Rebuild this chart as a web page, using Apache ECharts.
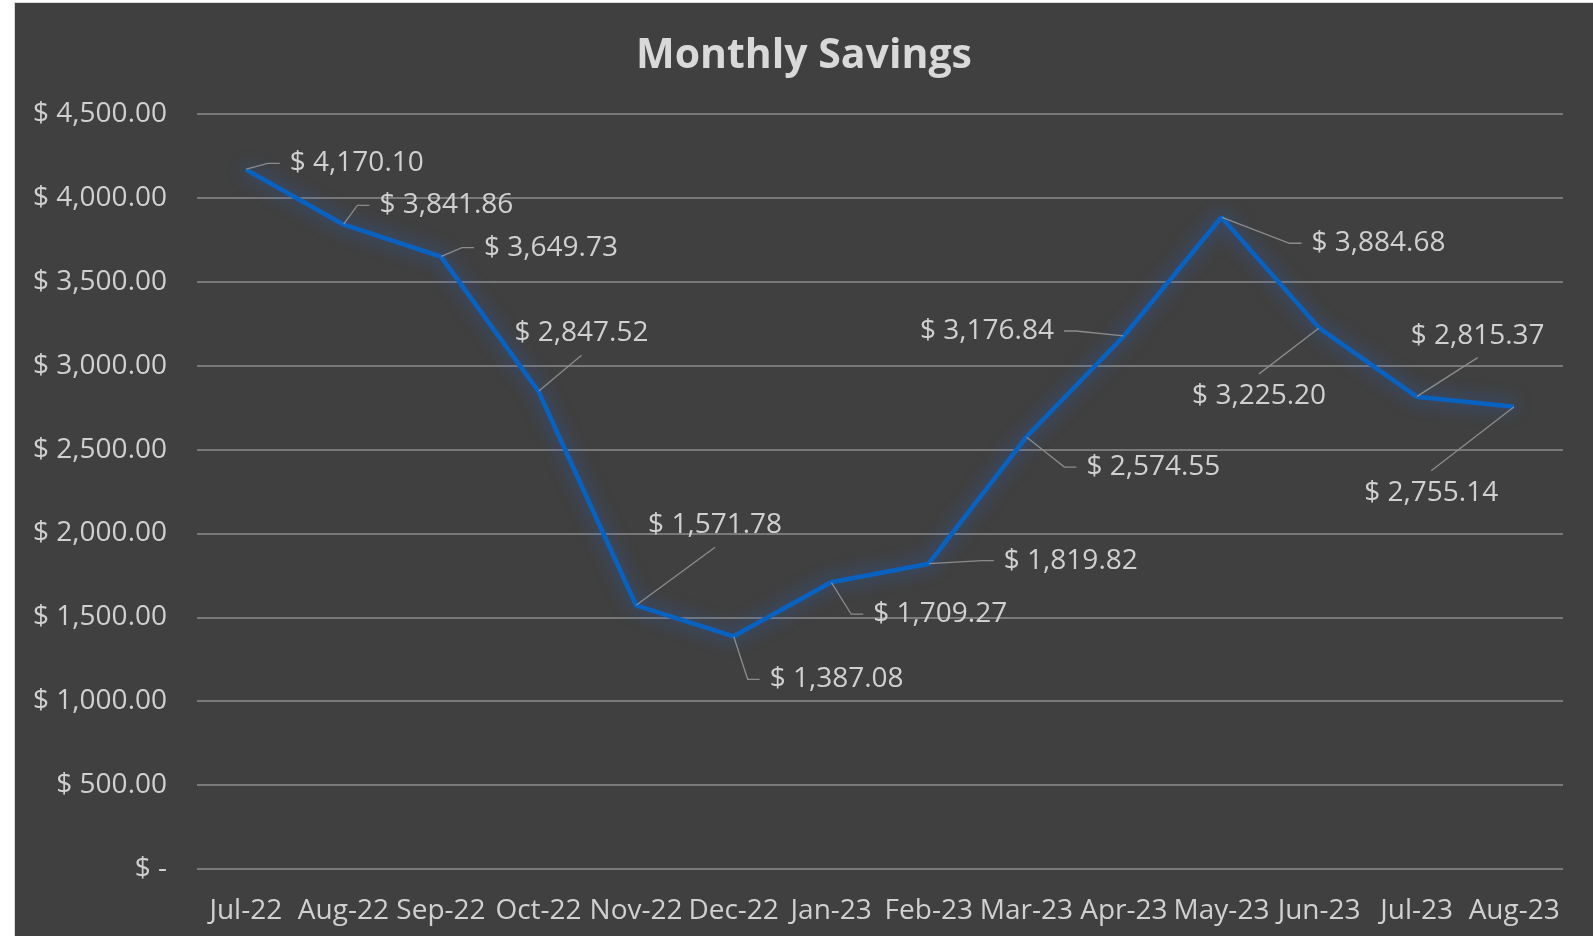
<!DOCTYPE html>
<html>
<head>
<meta charset="utf-8">
<script src="https://cdn.jsdelivr.net/npm/echarts@6/dist/echarts.min.js"></script>
<style>
  html, body { margin: 0; padding: 0; background: #ffffff; width: 1593px; height: 936px; overflow: hidden; }
  #frame { position: absolute; left: 14px; top: 2px; width: 1579px; height: 934px; background: #d9d9d9; }
  #chart { position: absolute; left: 15px; top: 3px; width: 1578px; height: 933px; }
</style>
</head>
<body>
<div id="frame"></div>
<div id="chart"></div>
<script>
const categories = ['Jul-22','Aug-22','Sep-22','Oct-22','Nov-22','Dec-22','Jan-23','Feb-23','Mar-23','Apr-23','May-23','Jun-23','Jul-23','Aug-23'];
const savings = [4170.10, 3841.86, 3649.73, 2847.52, 1571.78, 1387.08, 1709.27, 1819.82, 2574.55, 3176.84, 3884.68, 3225.20, 2815.37, 2755.14];
const yTicks = [0, 500, 1000, 1500, 2000, 2500, 3000, 3500, 4000, 4500];
// label offsets (dx, dy) from each point, as in the reference
const labelOffsets = [[111,-6],[103,-19],[110,-9],[43,-58],[79,-80],[103,43],[109,32],[142,-3],[127,30],[-137,-5],[157,26],[-60,68],[61,-61],[-83,86]];
// labels whose leader line meets the label from above/below
const verticalLeaders = [3, 4, 11, 12, 13];

function money(v) {
  if (v === 0) return '$ -';
  return '$ ' + v.toLocaleString('en-US', {minimumFractionDigits: 2, maximumFractionDigits: 2});
}

const FONT = '"Open Sans", sans-serif';
const LABEL_COLOR = '#d0d0d0';
const FS = 28;

const seriesData = savings.map((v, i) => {
  if (verticalLeaders.indexOf(i) >= 0) {
    return { value: v, label: { padding: [8, 100] }, labelLine: { length2: 0 } };
  }
  return v;
});

const chart = echarts.init(document.getElementById('chart'));
chart.setOption({
  backgroundColor: '#404040',
  animation: false,
  title: {
    text: 'Monthly Savings',
    left: 'center',
    top: 28,
    textStyle: { color: '#d9d9d9', fontSize: 41, fontWeight: 'bold', fontFamily: FONT }
  },
  grid: { left: 182, right: 30, top: 111, bottom: 67, containLabel: false },
  xAxis: {
    type: 'category',
    data: categories,
    boundaryGap: true,
    axisLine: { show: false },
    axisTick: { show: false },
    axisLabel: { color: LABEL_COLOR, fontSize: FS, fontFamily: FONT, margin: 28, interval: 0 },
    splitLine: { show: false }
  },
  yAxis: {
    type: 'value',
    min: yTicks[0],
    max: yTicks[yTicks.length - 1],
    interval: yTicks[1] - yTicks[0],
    axisLine: { show: false },
    axisTick: { show: false },
    axisLabel: { color: LABEL_COLOR, fontSize: FS, fontFamily: FONT, margin: 30, formatter: money },
    splitLine: { show: true, lineStyle: { color: '#8c8c8c', width: 1.5 } }
  },
  series: [{
    type: 'line',
    data: seriesData,
    symbol: 'circle',
    symbolSize: 1,
    showSymbol: true,
    itemStyle: { color: 'rgba(0,0,0,0)' },
    lineStyle: {
      color: '#0862c2',
      width: 4.5,
      shadowColor: 'rgba(40,100,210,0.8)',
      shadowBlur: 18
    },
    label: {
      show: true,
      position: 'inside',
      color: LABEL_COLOR,
      fontSize: FS,
      fontFamily: FONT,
      padding: [2, 10],
      backgroundColor: 'rgba(0,0,0,0)',
      formatter: p => money(p.value)
    },
    labelLine: {
      show: true,
      length2: 12,
      lineStyle: { color: '#8c8c8c', width: 1.3 }
    },
    labelLayout: function (params) {
      const o = labelOffsets[params.dataIndex];
      return { dx: o[0], dy: o[1] };
    }
  }]
});
</script>
</body>
</html>
